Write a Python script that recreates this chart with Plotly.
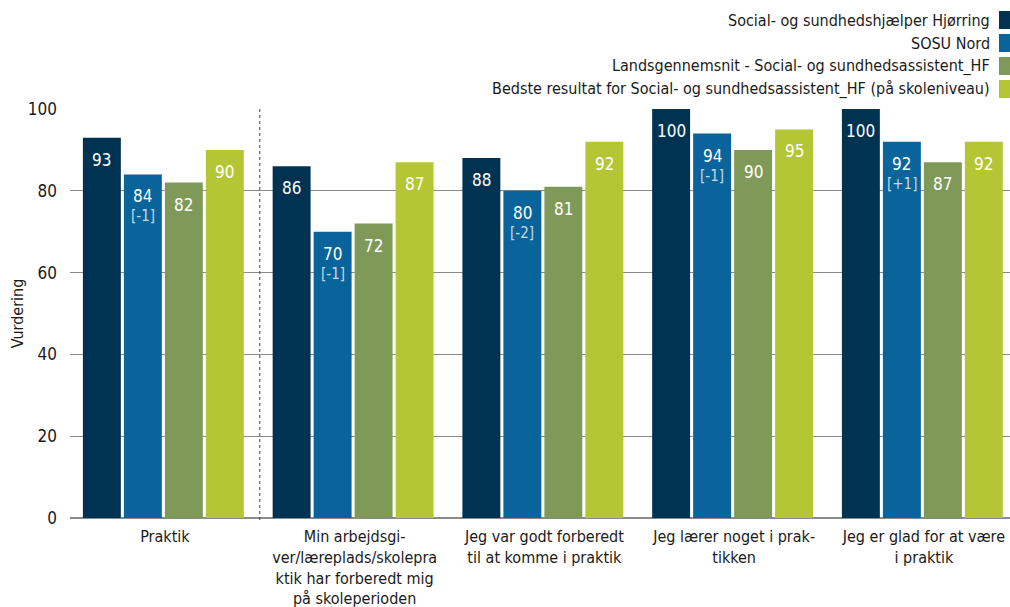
import plotly.graph_objects as go

categories = [
    "Praktik",
    "Min arbejdsgi-<br>ver/læreplads/skolepra<br>ktik har forberedt mig<br>på skoleperioden",
    "Jeg var godt forberedt<br>til at komme i praktik",
    "Jeg lærer noget i prak-<br>tikken",
    "Jeg er glad for at være<br>i praktik",
]
series_names = [
    "Social- og sundhedshjælper Hjørring",
    "SOSU Nord",
    "Landsgennemsnit - Social- og sundhedsassistent_HF",
    "Bedste resultat for Social- og sundhedsassistent_HF (på skoleniveau)",
]
hjoerring = [93, 86, 88, 100, 100]
sosu_nord = [84, 70, 80, 94, 92]
sosu_nord_change = ["[-1]", "[-1]", "[-2]", "[-1]", "[+1]"]
landsgns = [82, 72, 81, 90, 87]
bedste = [90, 87, 92, 95, 92]

colors = ["#003351", "#08649a", "#7f9a58", "#b4c634"]
FONT = "DejaVu Sans Condensed, DejaVu Sans, Verdana, sans-serif"

values = [hjoerring, sosu_nord, landsgns, bedste]
xs = list(range(len(categories)))
bar_w = 0.2
slot = 0.216
start = -0.432

W, H = 1010, 607
L, R, T, B = 70, 0, 109, 89
plot_w = W - L - R
plot_h = H - T - B


def px_x(p):
    return (p - L) / plot_w


def px_y(p):
    return (H - B - p) / plot_h


fig = go.Figure()
annotations = []
for k, (name, vals, col) in enumerate(zip(series_names, values, colors)):
    off = start + k * slot
    fig.add_trace(go.Bar(
        x=xs, y=vals, name=name, width=bar_w, offset=off,
        marker=dict(color=col, line=dict(width=0)),
        showlegend=False, hoverinfo="skip",
    ))
    for i, v in enumerate(vals):
        annotations.append(dict(
            x=i + off + bar_w / 2, y=v, xref="x", yref="y",
            text=str(v), showarrow=False, yshift=-22,
            font=dict(color="white", size=17, family=FONT),
        ))
        if k == 1:
            annotations.append(dict(
                x=i + off + bar_w / 2, y=v, xref="x", yref="y",
                text=sosu_nord_change[i], showarrow=False, yshift=-42,
                font=dict(color="#c6dae9", size=15, family=FONT),
            ))

# legend drawn by hand: text right-aligned, swatch on the right
shapes = []
for k, (name, col) in enumerate(zip(series_names, colors)):
    yc = 20 + 23 * k
    annotations.append(dict(
        x=px_x(992), y=px_y(yc), xref="paper", yref="paper", text=name,
        showarrow=False, xanchor="right", yanchor="middle",
        font=dict(color="#1a1a1a", size=16, family=FONT),
    ))
    shapes.append(dict(
        type="rect", xref="paper", yref="paper", layer="above",
        x0=px_x(999), x1=px_x(1010), y0=px_y(yc + 9), y1=px_y(yc - 9),
        fillcolor=col, line=dict(width=0),
    ))
shapes.append(dict(
    type="line", xref="x", yref="paper", x0=0.5, x1=0.5, y0=-0.005, y1=1.0,
    line=dict(color="#444444", width=1, dash="dot"),
))

fig.update_layout(
    width=W, height=H,
    margin=dict(l=L, r=R, t=T, b=B),
    plot_bgcolor="white", paper_bgcolor="white",
    font=dict(family=FONT, size=16, color="#1a1a1a"),
    showlegend=False,
    xaxis=dict(
        tickmode="array", tickvals=xs, ticktext=categories,
        range=[-0.5, -0.5 + plot_w / 189.75], showgrid=False, zeroline=False,
        ticks="", tickfont=dict(size=16), automargin=False,
        ticklabelstandoff=7,
    ),
    yaxis=dict(
        range=[0, 100], tickvals=[0, 20, 40, 60, 80, 100],
        showgrid=True, gridcolor="#8a8a8a", gridwidth=1, zeroline=True,
        zerolinecolor="#8a8a8a", ticks="", ticklabelstandoff=12,
        tickfont=dict(size=17), automargin=False,
        title=dict(text="Vurdering", standoff=0, font=dict(size=16)),
    ),
    annotations=annotations, shapes=shapes,
)

# drop the default page margin and scrollbars so the figure fills the window
fig.write_html(
    "out.html",
    config={"displayModeBar": False},
    post_script="document.body.style.margin='0';document.body.style.overflow='hidden';",
)
